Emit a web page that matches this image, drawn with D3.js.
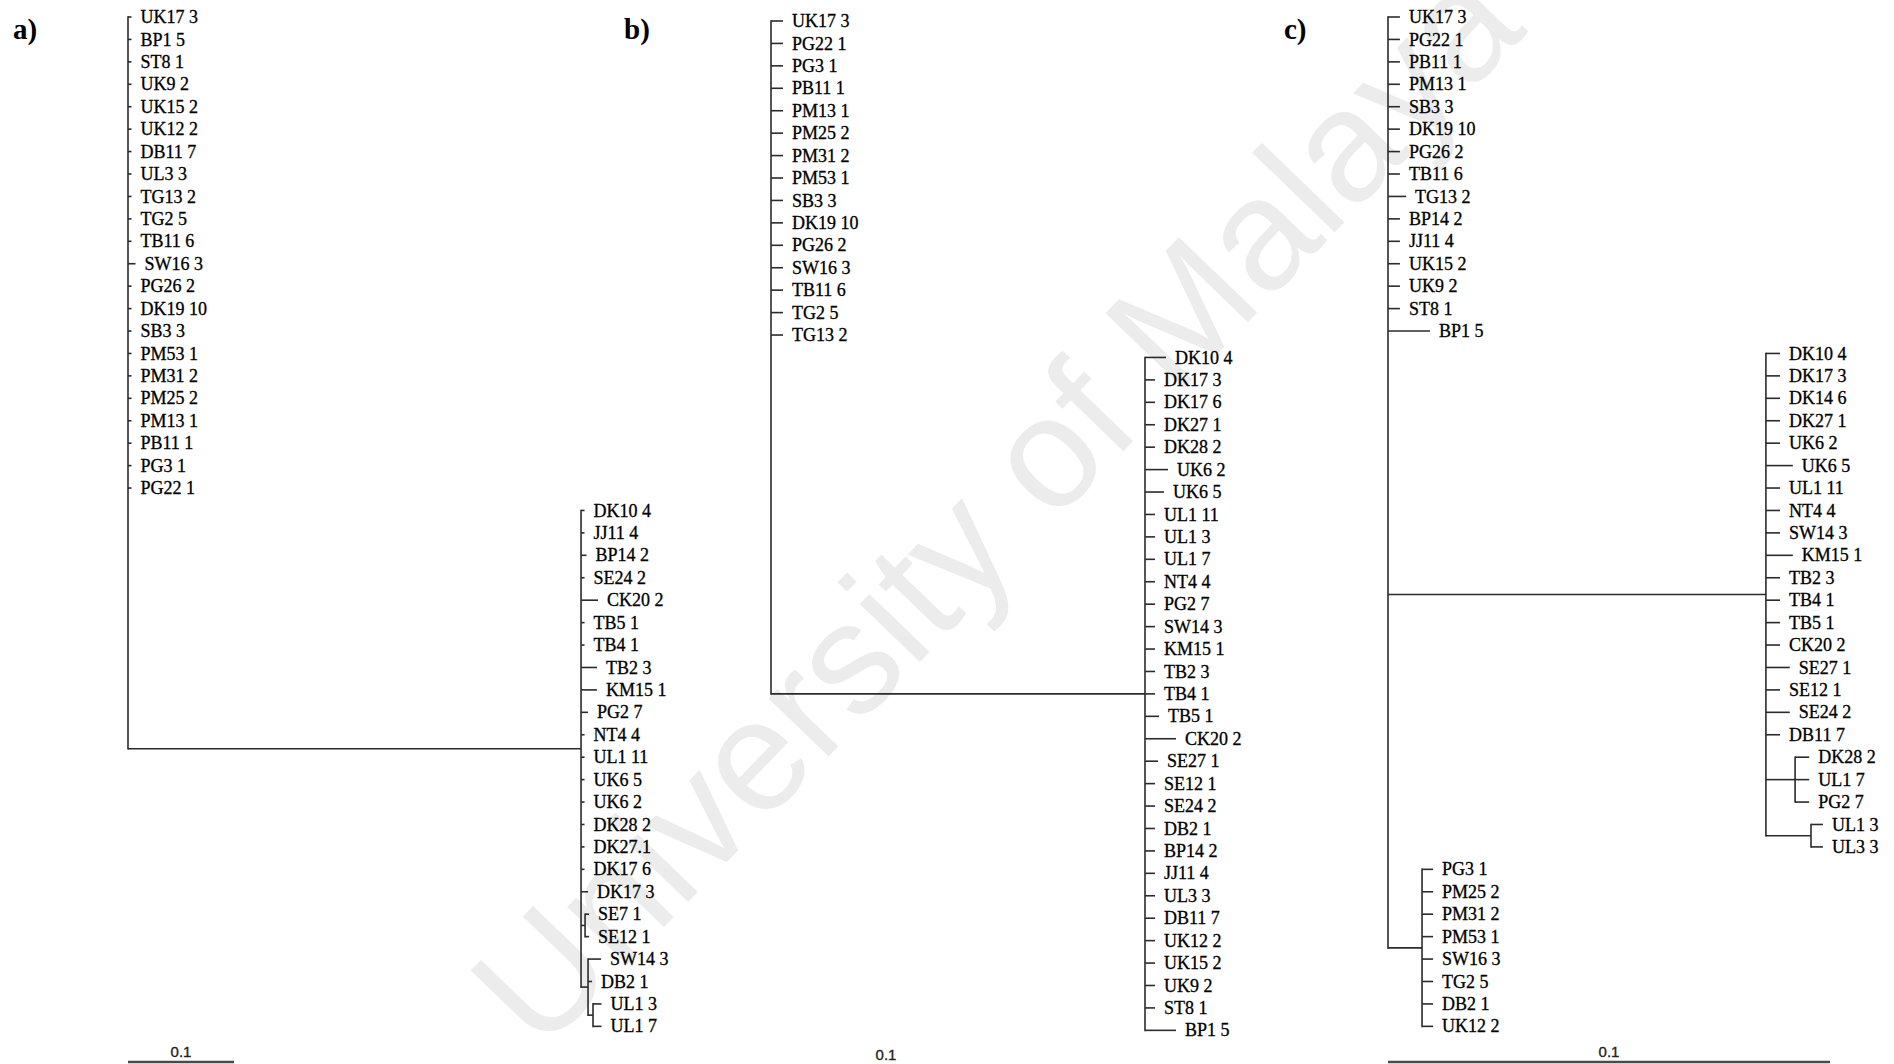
<!DOCTYPE html>
<html>
<head>
<meta charset="utf-8">
<script src="https://cdn.jsdelivr.net/npm/d3@7"></script>
<style>
  html, body { margin: 0; padding: 0; background: #fff; }
  svg { display: block; }
  .lbl   { font-family: "Liberation Serif", "Times New Roman", serif; font-size: 18px; fill: #000; stroke: #000; stroke-width: 0.3; }
  .panel { font-family: "Liberation Serif", "Times New Roman", serif; font-size: 29px; font-weight: bold; fill: #000; }
  .scale { font-family: "Liberation Sans", Arial, sans-serif; font-size: 15px; fill: #222; stroke: #222; stroke-width: 0.35; }
  .br    { fill: none; stroke: #2b2b2b; stroke-width: 1.6; }
  .wm    { font-family: "Liberation Sans", Arial, sans-serif; font-size: 158px; fill: #ececec; }
</style>
</head>
<body>
<svg id="chart" width="1894" height="1064"></svg>
<script>
// ---- DATA (branch lengths in distance units, leaves top to bottom) ----

// a)
var aTopLeaves = ["UK17 3","BP1 5","ST8 1","UK9 2","UK15 2","UK12 2","DB11 7","UL3 3","TG13 2","TG2 5","TB11 6",
                  "SW16 3","PG26 2","DK19 10","SB3 3","PM53 1","PM31 2","PM25 2","PM13 1","PB11 1","PG3 1","PG22 1"];
var aTopLen    = [0.0033,0.0033,0.0033,0.0033,0.0033,0.0033,0.0033,0.0033,0.0033,0.0033,0.0033,
                  0.0071,0.0033,0.0033,0.0033,0.0033,0.0033,0.0033,0.0033,0.0033,0.0033,0.0033];
var aRightStem   = 0.4274;
var aRightLeaves = ["DK10 4","JJ11 4","BP14 2","SE24 2","CK20 2","TB5 1","TB4 1","TB2 3","KM15 1","PG2 7",
                    "NT4 4","UL1 11","UK6 5","UK6 2","DK28 2","DK27.1","DK17 6","DK17 3"];
var aRightLen    = [0.0033,0.0033,0.0052,0.0033,0.016,0.0033,0.0033,0.0151,0.0151,0.0066,
                    0.0033,0.0033,0.0033,0.0033,0.0033,0.0033,0.0033,0.0066];
var aSeStem = 0.0038, aSeLeaves = ["SE7 1","SE12 1"], aSeLen = [0.0038,0.0038];
var aSwStem = 0.0066, aSwLeaves = ["SW14 3","DB2 1"], aSwLen = [0.0123,0.0038];
var aUlStem = 0.0047, aUlLeaves = ["UL1 3","UL1 7"], aUlLen = [0.008,0.008];

// b)
var bTopLeaves = ["UK17 3","PG22 1","PG3 1","PB11 1","PM13 1","PM25 2","PM31 2","PM53 1","SB3 3","DK19 10",
                  "PG26 2","SW16 3","TB11 6","TG2 5","TG13 2"];
var bTopLen    = [0.012,0.012,0.012,0.012,0.012,0.012,0.012,0.012,0.012,0.012,0.012,0.012,0.012,0.012,0.012];
var bRightStem   = 0.374;
var bRightLeaves = ["DK10 4","DK17 3","DK17 6","DK27 1","DK28 2","UK6 2","UK6 5","UL1 11","UL1 3","UL1 7",
                    "NT4 4","PG2 7","SW14 3","KM15 1","TB2 3","TB4 1","TB5 1","CK20 2","SE27 1","SE12 1",
                    "SE24 2","DB2 1","BP14 2","JJ11 4","UL3 3","DB11 7","UK12 2","UK15 2","UK9 2","ST8 1","BP1 5"];
var bRightLen    = [0.021,0.010,0.010,0.010,0.010,0.023,0.019,0.010,0.010,0.010,
                    0.010,0.010,0.010,0.010,0.010,0.010,0.014,0.031,0.013,0.010,
                    0.010,0.010,0.010,0.010,0.010,0.010,0.010,0.010,0.010,0.010,0.031];

// c)
var cTopLeaves = ["UK17 3","PG22 1","PB11 1","PM13 1","SB3 3","DK19 10","PG26 2","TB11 6","TG13 2","BP14 2",
                  "JJ11 4","UK15 2","UK9 2","ST8 1","BP1 5"];
var cTopLen    = [0.0027,0.0027,0.0027,0.0027,0.0027,0.0027,0.0027,0.0027,0.0041,0.0027,
                  0.0027,0.0027,0.0027,0.0027,0.0095];
var cRightStem   = 0.0855;
var cRightLeaves = ["DK10 4","DK17 3","DK14 6","DK27 1","UK6 2","UK6 5","UL1 11","NT4 4","SW14 3","KM15 1",
                    "TB2 3","TB4 1","TB5 1","CK20 2","SE27 1","SE12 1","SE24 2","DB11 7"];
var cRightLen    = [0.0032,0.0032,0.0032,0.0032,0.0032,0.0061,0.0032,0.0032,0.0032,0.0061,
                    0.0032,0.0032,0.0032,0.0032,0.0054,0.0032,0.0054,0.0032];
var cDkStem = 0.0066, cDkLeaves = ["DK28 2","UL1 7","PG2 7"], cDkLen = [0.0032,0.0032,0.0032];
var cUlStem = 0.0102, cUlLeaves = ["UL1 3","UL3 3"], cUlLen = [0.0027,0.0027];
var cBottomStem   = 0.0077;
var cBottomLeaves = ["PG3 1","PM25 2","PM31 2","PM53 1","SW16 3","TG2 5","DB2 1","UK12 2"];
var cBottomLen    = [0.0025,0.0025,0.0025,0.0025,0.0025,0.0025,0.0025,0.0025];

var scaleText = "0.1";

// ---- helpers to build the trees ----
function clade( len, children ) { return { len: len, children: children }; }
function tips( names, lens ) {
  return names.map( function( n, i ) { return { name: n, len: lens[i] }; } );
}

var treeA = clade( 0, tips( aTopLeaves, aTopLen ).concat( [
  clade( aRightStem, tips( aRightLeaves, aRightLen ).concat( [
    clade( aSeStem, tips( aSeLeaves, aSeLen ) ),
    clade( aSwStem, tips( aSwLeaves, aSwLen ).concat( [ clade( aUlStem, tips( aUlLeaves, aUlLen ) ) ] ) )
  ] ) )
] ) );

var treeB = clade( 0, tips( bTopLeaves, bTopLen ).concat( [
  clade( bRightStem, tips( bRightLeaves, bRightLen ) )
] ) );

var treeC = clade( 0, tips( cTopLeaves, cTopLen ).concat( [
  clade( cRightStem, tips( cRightLeaves, cRightLen ).concat( [
    clade( cDkStem, tips( cDkLeaves, cDkLen ) ),
    clade( cUlStem, tips( cUlLeaves, cUlLen ) )
  ] ) ),
  clade( cBottomStem, tips( cBottomLeaves, cBottomLen ) )
] ) );

// layout of the three panels
var rowStep = 22.43;
var panels = [
  { tree: treeA, tag: "a)", tagX: 13,   rootX: 128,  y0: 17, barPx: 106, drawBar: true,  barLabelX: 181,  barY: 1062, barTextY: 1057 },
  { tree: treeB, tag: "b)", tagX: 624,  rootX: 771,  y0: 21, barPx: 100, drawBar: false, barLabelX: 886,  barY: 1062, barTextY: 1060 },
  { tree: treeC, tag: "c)", tagX: 1284, rootX: 1388, y0: 17, barPx: 442, drawBar: true,  barLabelX: 1609, barY: 1062, barTextY: 1057 }
];

var svg = d3.select( "#chart" );

// watermark
svg.append( "text" )
  .attr( "class", "wm" )
  .attr( "text-anchor", "middle" )
  .attr( "dominant-baseline", "central" )
  .attr( "transform", "translate(995,505) rotate(-46)" )
  .text( "University of Malaya" );

panels.forEach( function( p ) {

  var g = svg.append( "g" );
  var root = d3.hierarchy( p.tree );

  var x = d3.scaleLinear().domain( [ 0, 0.1 ] ).range( [ p.rootX, p.rootX + p.barPx ] );
  var y = d3.scaleLinear().domain( [ 0, 1 ] ).range( [ p.y0, p.y0 + rowStep ] );

  // distance from root
  root.each( function( d ) { d.dist = d.parent ? d.parent.dist + d.data.len : 0; } );
  // leaf rows, then internal nodes at middle of first/last child
  root.leaves().forEach( function( d, i ) { d.row = i; } );
  root.eachAfter( function( d ) {
    if ( d.children ) {
      d.row = ( d.children[0].row + d.children[d.children.length - 1].row ) / 2;
    }
  } );

  // verticals
  g.selectAll( "line.v" )
    .data( root.descendants().filter( function( d ) { return d.children; } ) )
    .enter().append( "line" )
    .attr( "class", "br" )
    .attr( "x1", function( d ) { return x( d.dist ); } )
    .attr( "x2", function( d ) { return x( d.dist ); } )
    .attr( "y1", function( d ) { return y( d.children[0].row ) - 0.8; } )
    .attr( "y2", function( d ) { return y( d.children[d.children.length - 1].row ) + 0.8; } );

  // horizontals
  g.selectAll( "line.h" )
    .data( root.descendants().filter( function( d ) { return d.parent; } ) )
    .enter().append( "line" )
    .attr( "class", "br" )
    .attr( "x1", function( d ) { return x( d.parent.dist ); } )
    .attr( "x2", function( d ) { return x( d.dist ); } )
    .attr( "y1", function( d ) { return y( d.row ); } )
    .attr( "y2", function( d ) { return y( d.row ); } );

  // leaf labels
  g.selectAll( "text.lbl" )
    .data( root.leaves() )
    .enter().append( "text" )
    .attr( "class", "lbl" )
    .attr( "x", function( d ) { return x( d.dist ) + 9; } )
    .attr( "y", function( d ) { return y( d.row ); } )
    .attr( "dy", "0.34em" )
    .text( function( d ) { return d.data.name; } );

  // panel tag
  svg.append( "text" )
    .attr( "class", "panel" )
    .attr( "x", p.tagX )
    .attr( "y", 39 )
    .text( p.tag );

  // scale bar
  if ( p.drawBar ) {
    svg.append( "line" )
      .attr( "x1", x( 0 ) ).attr( "x2", x( 0.1 ) )
      .attr( "y1", p.barY ).attr( "y2", p.barY )
      .attr( "stroke", "#4a4a4a" ).attr( "stroke-width", 2.5 );
  }
  svg.append( "text" )
    .attr( "class", "scale" )
    .attr( "x", p.barLabelX )
    .attr( "y", p.barTextY )
    .attr( "text-anchor", "middle" )
    .text( scaleText );

} );
</script>
</body>
</html>
